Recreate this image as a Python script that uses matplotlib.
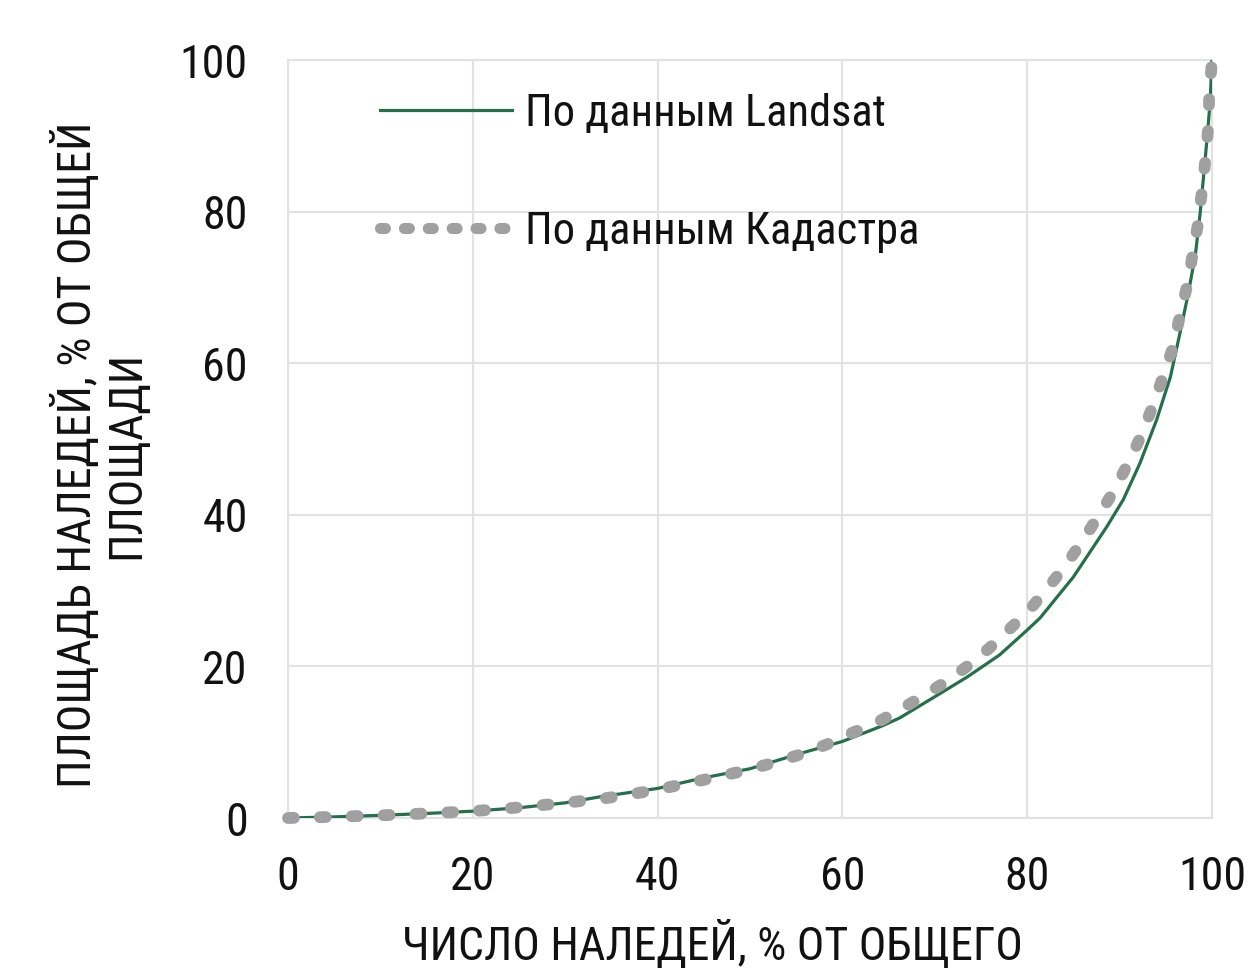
import matplotlib
matplotlib.use("Agg")
import matplotlib.pyplot as plt
from matplotlib.lines import Line2D

plt.rcParams['font.family'] = ['Roboto Condensed', 'PT Sans Narrow', 'DejaVu Sans']

landsat_x = [0, 5, 10, 15, 20, 25, 30, 33.8, 40, 44.6, 50, 55.4, 60, 64.4, 66.2, 70, 73.5, 77,
             80, 81.4, 85, 88.6, 90.4, 92.2, 94, 95.5, 96.5, 97.4, 98.2, 98.7, 99.1, 99.5, 99.8, 100]
landsat_y = [0, 0.15, 0.35, 0.6, 0.9, 1.35, 2.0, 2.8, 3.9, 5.2, 6.5, 8.5, 10.1, 12.2, 13.2, 16.0,
             18.6, 21.5, 24.8, 26.4, 31.8, 38.4, 42, 46.8, 52.5, 58.2, 63.8, 69, 74.3, 79.6, 84.8,
             90.1, 94.5, 100]

cadastre_x = [0, 5, 10, 15, 20, 25, 30, 34.3, 37, 40.2, 43.3, 46.4, 49.6, 52.6, 55.5, 58.3, 61,
              63.6, 66.1, 68.6, 71.1, 73.5, 75.8, 77.9, 80.2, 82.2, 84.2, 86, 87.8, 89.5, 91,
              92.4, 93.6, 94.7, 95.8, 96.5, 97.3, 97.9, 98.5, 98.9, 99.3, 99.6, 99.7, 100]
cadastre_y = [0, 0.15, 0.35, 0.6, 0.9, 1.4, 2.0, 2.6, 3.1, 3.8, 4.6, 5.4, 6.3, 7.3, 8.4, 9.7,
              11.2, 12.5, 14.2, 16, 17.9, 20, 22.3, 24.7, 27.4, 30.3, 33.4, 36.6, 40, 43.4, 47,
              50.6, 54.4, 58.2, 62.2, 66.1, 70.2, 74.3, 78.5, 82.6, 87, 91.2, 95.4, 100]

ticks = [0, 20, 40, 60, 80, 100]
label_landsat = "По данным Landsat"
label_cadastre = "По данным Кадастра"
xlabel = "ЧИСЛО НАЛЕДЕЙ, % ОТ ОБЩЕГО"
ylabel = "ПЛОЩАДЬ НАЛЕДЕЙ, % ОТ ОБЩЕЙ\nПЛОЩАДИ"

GREEN = '#25704a'
GRAY = '#a0a0a0'
TXT = '#111111'

W, H = 1248, 969
fig = plt.figure(figsize=(W / 100, H / 100), dpi=100)
ax = fig.add_axes([288 / W, 1 - 818 / H, (1212 - 288) / W, (818 - 60) / H])

ax.set_xlim(0, 100)
ax.set_ylim(0, 100)
ax.set_xticks(ticks)
ax.set_yticks(ticks)
ax.grid(True, color='#e2e2e2', linewidth=1.5)
ax.set_axisbelow(True)
for s in ax.spines.values():
    s.set_color('#e2e2e2')
    s.set_linewidth(1.5)
ax.tick_params(length=0, labelsize=33, colors=TXT)
ax.tick_params(axis='x', pad=27)
ax.tick_params(axis='y', pad=29)

ax.plot(landsat_x, landsat_y, color=GREEN, linewidth=2.3, zorder=3)
ax.plot(cadastre_x, cadastre_y, color=GRAY, linewidth=8.5,
        linestyle=(0, (0.5, 2.2)), dash_capstyle='round',
        zorder=4, clip_on=False)

h1 = Line2D([], [], color=GREEN, linewidth=2.3)
h2 = Line2D([], [], color=GRAY, linewidth=8.0, linestyle=(0, (0.45, 1.7)), dash_capstyle='round')
leg = ax.legend([h1, h2], [label_landsat, label_cadastre], loc='upper left',
                bbox_to_anchor=(380 / W, 1 - 93 / H),
                bbox_transform=fig.transFigure, frameon=False, fontsize=32,
                handlelength=2.97, handletextpad=0.3, labelspacing=1.7,
                borderpad=0, borderaxespad=0)
for t in leg.get_texts():
    t.set_color(TXT)

fig.text(712 / W, 1 - 945 / H, xlabel, fontsize=33, ha='center', va='center', color=TXT)
fig.text(100 / W, 1 - 455 / H, ylabel, fontsize=33, ha='center', va='center',
         rotation=90, multialignment='center', color=TXT, linespacing=1.12)

fig.savefig("out.png", dpi=100)
